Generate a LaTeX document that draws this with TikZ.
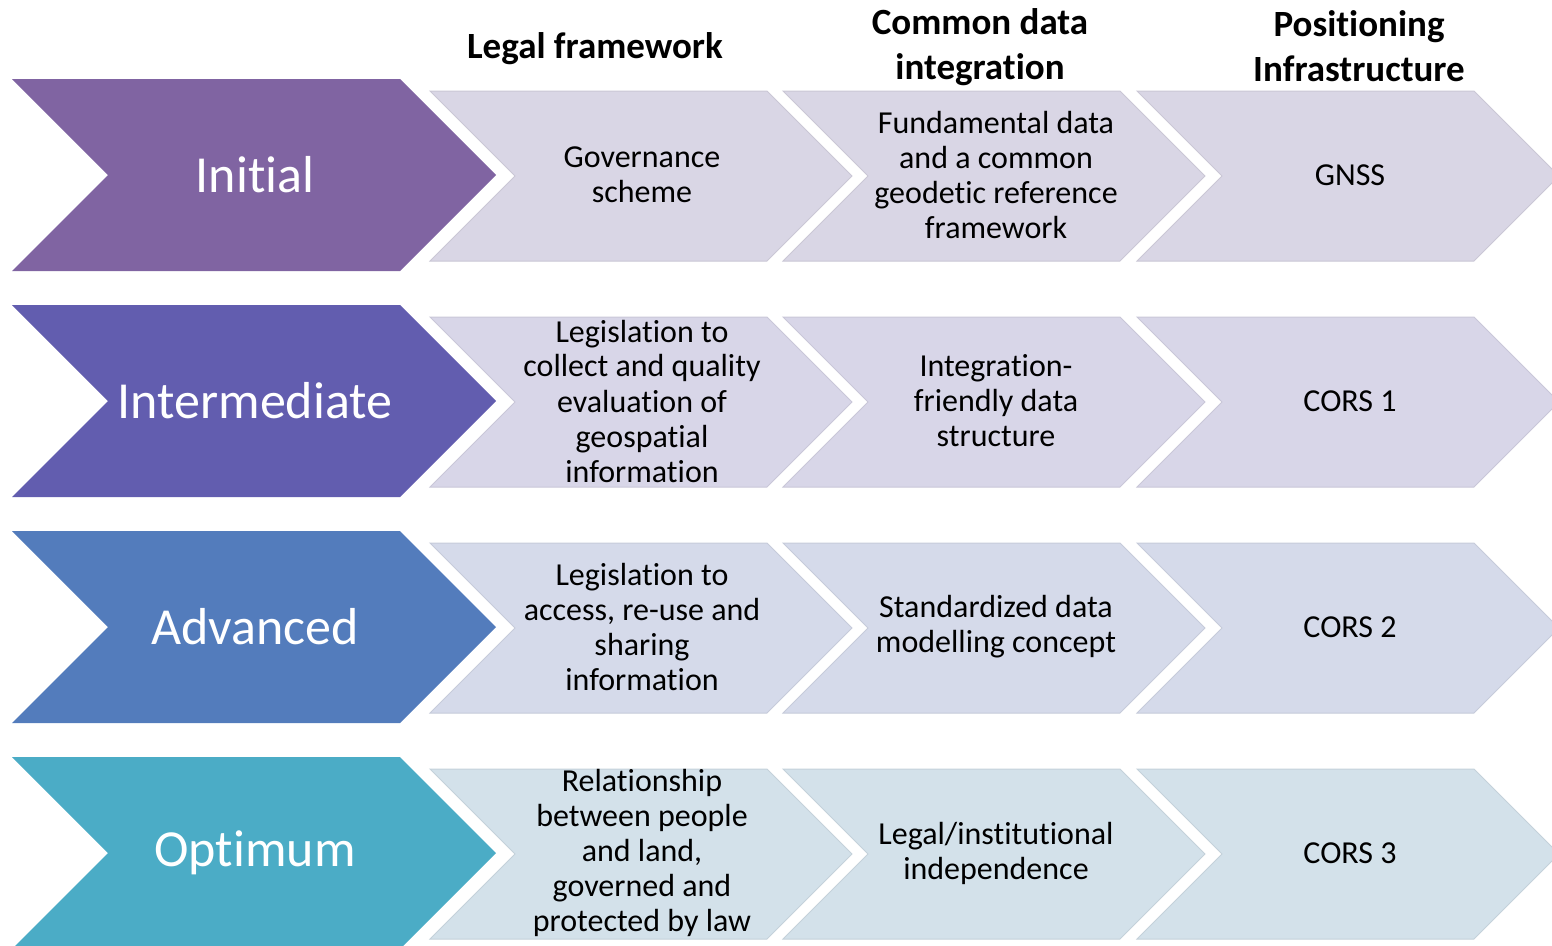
\documentclass[tikz,border=0pt]{standalone}
\usepackage{fontspec}
\setmainfont{Carlito}[Ligatures={NoCommon}]
\definecolor{cInitial}{HTML}{8064A2}
\definecolor{cInter}{HTML}{625DAF}
\definecolor{cAdv}{HTML}{537CBC}
\definecolor{cOpt}{HTML}{4BACC6}
\definecolor{lInitial}{HTML}{D9D6E5}
\definecolor{lInter}{HTML}{D8D6E8}
\definecolor{lAdv}{HTML}{D5DAEA}
\definecolor{lOpt}{HTML}{D3E1EA}
\newcommand\BigChev[2]{%
  \fill[#2] (12,#1) -- (400,#1) -- (496,{#1+96}) -- (400,{#1+192}) -- (12,{#1+192}) -- (108,{#1+96}) -- cycle;}
\newcommand\SmallChev[3]{%
  \filldraw[fill=#3, draw=#3!93!black, line width=1pt] (#1,#2) -- ({#1+337},#2) -- ({#1+422},{#2+85}) -- ({#1+337},{#2+170}) -- (#1,{#2+170}) -- ({#1+85},{#2+85}) -- cycle;}
\tikzset{
  bigtext/.style={text=white, font=\fontsize{52}{60}\selectfont, align=center, inner sep=0pt},
  smalltext/.style={text=black, font=\fontsize{32}{35}\selectfont, align=center, inner sep=0pt},
  headtext/.style={text=black, font=\fontsize{37}{45}\selectfont\bfseries, align=center, inner sep=0pt}
}
\begin{document}
\begin{tikzpicture}[x=1pt,y=-1pt]
\useasboundingbox (0,0) rectangle (1552,945);
\clip (0,0) rectangle (1552,945);
% headers
\node[headtext] (h1) at (595,49) {Legal framework};
\node[headtext] (h2) at (980,47) {Common data\\integration};
\node[headtext] (h3) at (1359,46) {Positioning\\Infrastructure};
% rows
\BigChev{79}{cInitial}
\BigChev{305}{cInter}
\BigChev{531}{cAdv}
\BigChev{757}{cOpt}
\foreach \yy/\cc in {91/lInitial,317/lInter,543/lAdv,769/lOpt}{
  \SmallChev{430}{\yy}{\cc}
  \SmallChev{783}{\yy}{\cc}
  \SmallChev{1137}{\yy}{\cc}
}
% big labels
\node[bigtext] (b1) at (255,175) {Initial};
\node[bigtext] (b2) at (255,401) {Intermediate};
\node[bigtext] (b3) at (255,627) {Advanced};
\node[bigtext] (b4) at (255,853) {Optimum};
% row 1
\node[smalltext] (r1c1) at (642,175) {Governance\\scheme};
\node[smalltext] (r1c2) at (996,175) {Fundamental data\\and a common\\geodetic reference\\framework};
\node[smalltext] (r1c3) at (1350,175) {GNSS};
% row 2
\node[smalltext] (r2c1) at (642,401) {Legislation to\\collect and quality\\evaluation of\\geospatial\\information};
\node[smalltext] (r2c2) at (996,401) {Integration-\\friendly data\\structure};
\node[smalltext] (r2c3) at (1350,401) {CORS 1};
% row 3
\node[smalltext] (r3c1) at (642,627) {Legislation to\\access, re-use and\\sharing\\information};
\node[smalltext] (r3c2) at (996,627) {Standardized data\\modelling concept};
\node[smalltext] (r3c3) at (1350,627) {CORS 2};
% row 4
\node[smalltext] (r4c1) at (642,853) {Relationship\\between people\\and land,\\governed and\\protected by law};
\node[smalltext] (r4c2) at (996,853) {Legal/institutional\\independence};
\node[smalltext] (r4c3) at (1350,853) {CORS 3};
\end{tikzpicture}
\end{document}
